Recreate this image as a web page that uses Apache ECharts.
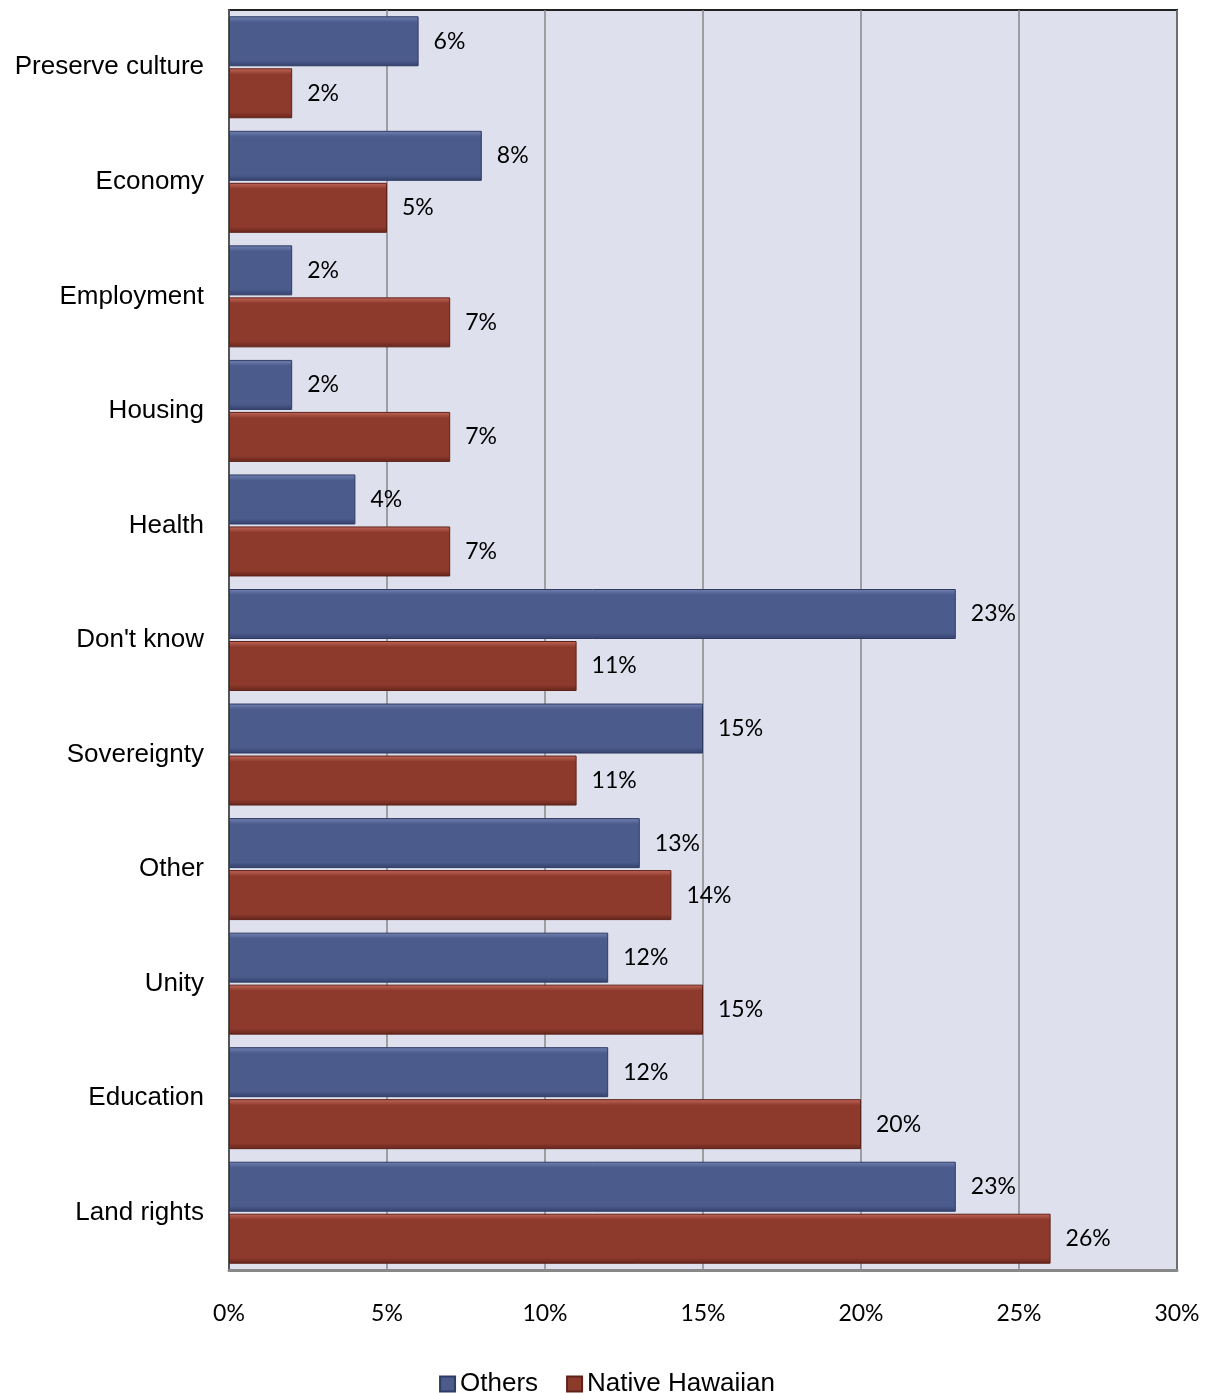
<!DOCTYPE html>
<html>
<head>
<meta charset="utf-8">
<style>
  html, body { margin: 0; padding: 0; background: #ffffff; }
  #chart { width: 1214px; height: 1393px; }
</style>
<script src="https://cdn.jsdelivr.net/npm/echarts@6/dist/echarts.min.js"></script>
</head>
<body>
<div id="chart"></div>
<script>
// Survey answers, listed top to bottom
const categories = ['Preserve culture', 'Economy', 'Employment', 'Housing', 'Health',
  "Don't know", 'Sovereignty', 'Other', 'Unity', 'Education', 'Land rights'];
const othersValues = [6, 8, 2, 2, 4, 23, 15, 13, 12, 12, 23];
const nativeValues = [2, 5, 7, 7, 7, 11, 11, 14, 15, 20, 26];
const xTicks = [0, 5, 10, 15, 20, 25, 30];

const chart = echarts.init(document.getElementById('chart'));

function bevel(light, mid, dark) {
  return new echarts.graphic.LinearGradient(0, 0, 0, 1, [
    { offset: 0, color: light },
    { offset: 0.12, color: mid },
    { offset: 0.88, color: mid },
    { offset: 1, color: dark }
  ]);
}

const valueLabel = {
  show: true,
  position: 'right',
  distance: 15,
  formatter: p => p.value + '%',
  fontFamily: 'Lato, "Open Sans", sans-serif',
  fontSize: 23,
  color: '#000'
};

chart.setOption({
  animation: false,
  backgroundColor: '#ffffff',
  grid: {
    left: 229, right: 37, top: 10, bottom: 123,
    show: true,
    backgroundColor: '#dfe0ee',
    borderColor: '#222',
    borderWidth: 2
  },
  legend: {
    top: 1366,
    left: 'center',
    itemWidth: 15,
    itemHeight: 15,
    itemGap: 28,
    icon: 'rect',
    textStyle: { fontFamily: '"Liberation Sans", Arial, sans-serif', fontSize: 26, color: '#000' },
    data: ['Others', 'Native Hawaiian']
  },
  xAxis: {
    type: 'value',
    min: xTicks[0],
    max: xTicks[xTicks.length - 1],
    interval: 5,
    axisLine: { show: true, lineStyle: { color: '#888', width: 3 } },
    axisTick: { show: false },
    splitLine: { show: true, lineStyle: { color: '#888', width: 1.5 } },
    axisLabel: {
      margin: 32,
      formatter: v => v + '%',
      fontFamily: 'Lato, "Open Sans", sans-serif',
      fontSize: 23,
      color: '#000'
    }
  },
  yAxis: {
    type: 'category',
    inverse: true,
    data: categories,
    axisLine: { show: true, lineStyle: { color: '#555', width: 2 } },
    axisTick: { show: false },
    axisLabel: {
      margin: 25,
      fontFamily: '"Liberation Sans", Arial, sans-serif',
      fontSize: 26,
      color: '#000'
    }
  },
  series: [
    {
      name: 'Others',
      type: 'bar',
      data: othersValues,
      barWidth: 50,
      barGap: '4%',
      itemStyle: {
        color: bevel('#7283b3', '#4b5b8c', '#33416c'),
        borderColor: '#2f3b62',
        borderWidth: 1
      },
      label: valueLabel
    },
    {
      name: 'Native Hawaiian',
      type: 'bar',
      data: nativeValues,
      barWidth: 50,
      itemStyle: {
        color: bevel('#c4695a', '#8d3a2d', '#65241a'),
        borderColor: '#5e2219',
        borderWidth: 1
      },
      label: valueLabel
    }
  ]
});
</script>
</body>
</html>
